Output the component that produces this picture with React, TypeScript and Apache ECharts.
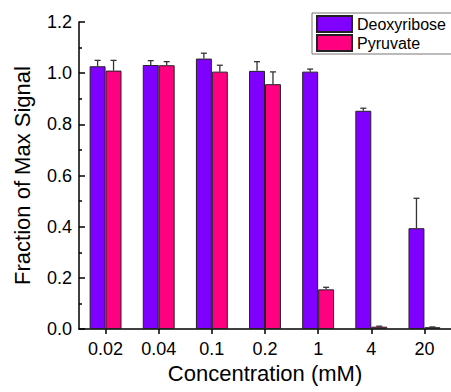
import React, { useEffect, useRef } from "react";
import * as echarts from "echarts";

const categories = ["0.02", "0.04", "0.1", "0.2", "1", "4", "20"];
const deoxyribose = [1.027, 1.032, 1.057, 1.009, 1.006, 0.853, 0.394];
const deoxyriboseErr = [0.023, 0.017, 0.021, 0.036, 0.01, 0.01, 0.117];
const pyruvate = [1.01, 1.031, 1.006, 0.957, 0.155, 0.009, 0.007];
const pyruvateErr = [0.04, 0.014, 0.025, 0.048, 0.008, 0.002, 0.001];

const FONT = "'Liberation Sans', Arial, sans-serif";
const BAR_FRAC = 0.3;

function errorSeries(values: number[], errs: number[], side: number) {
  return {
    type: "custom",
    silent: true,
    z: 5,
    data: values.map((v, i) => [i, v, v + errs[i]]),
    renderItem: (params: any, api: any) => {
      const idx = api.value(0);
      const bottom = api.coord([idx, api.value(1)]);
      const top = api.coord([idx, api.value(2)]);
      const band = api.size([1, 0])[0];
      const x = bottom[0] + side * band * BAR_FRAC * 0.5;
      const cap = 3;
      const style = { stroke: "#333333", lineWidth: 1.3 };
      return {
        type: "group",
        children: [
          { type: "line", shape: { x1: x, y1: bottom[1], x2: x, y2: top[1] }, style },
          { type: "line", shape: { x1: x - cap, y1: top[1], x2: x + cap, y2: top[1] }, style },
        ],
      };
    },
  };
}

export default function App() {
  const ref = useRef<HTMLDivElement>(null);
  useEffect(() => {
    if (!ref.current) return;
    const chart = echarts.init(ref.current, null, { renderer: "svg" });
    chart.setOption({
      animation: false,
      backgroundColor: "#ffffff",
      textStyle: { fontFamily: FONT },
      grid: { left: 79, top: 22, bottom: 63, right: -9.5, containLabel: false },
      legend: {
        data: ["Deoxyribose", "Pyruvate"],
        orient: "vertical",
        left: 312,
        top: 13,
        itemWidth: 35,
        itemHeight: 16,
        itemGap: 1,
        padding: [2, 6, 2, 4],
        borderColor: "#777777",
        borderWidth: 1,
        backgroundColor: "#ffffff",
        icon: "rect",
        textStyle: { fontSize: 16, lineHeight: 16, color: "#000", fontFamily: FONT },
      },
      xAxis: {
        type: "category",
        data: categories,
        name: "Concentration (mM)",
        nameLocation: "middle",
        nameGap: 29,
        nameTextStyle: { fontSize: 22, color: "#000", fontFamily: FONT },
        axisLine: { lineStyle: { color: "#000", width: 1.5 } },
        axisTick: { show: true, alignWithLabel: true, inside: false, length: 5, lineStyle: { color: "#000", width: 1.5 } },
        axisLabel: { fontSize: 18, color: "#000", margin: 11, fontFamily: FONT },
        splitLine: { show: false },
      },
      yAxis: {
        type: "value",
        min: 0,
        max: 1.2,
        interval: 0.2,
        name: "Fraction of Max Signal",
        nameLocation: "middle",
        nameGap: 46,
        nameTextStyle: { fontSize: 22, color: "#000", fontFamily: FONT },
        axisLine: { show: true, lineStyle: { color: "#000", width: 1.5 } },
        axisTick: { show: true, inside: true, length: 6, lineStyle: { color: "#000", width: 1.5 } },
        minorTick: { show: true, splitNumber: 2, length: 3, lineStyle: { color: "#000", width: 1.5 } },
        axisLabel: {
          fontSize: 18,
          color: "#000",
          margin: 7,
          fontFamily: FONT,
          formatter: (v: number) => v.toFixed(1),
        },
        splitLine: { show: false },
      },
      series: [
        {
          name: "Deoxyribose",
          type: "bar",
          data: deoxyribose,
          barWidth: "30%",
          barGap: "0%",
          itemStyle: { color: "#8000FF", borderColor: "#222222", borderWidth: 1 },
        },
        {
          name: "Pyruvate",
          type: "bar",
          data: pyruvate,
          barWidth: "30%",
          barGap: "0%",
          itemStyle: { color: "#FF0080", borderColor: "#222222", borderWidth: 1 },
        },
        errorSeries(deoxyribose, deoxyriboseErr, -1),
        errorSeries(pyruvate, pyruvateErr, 1),
      ],
    });
    return () => chart.dispose();
  }, []);
  return (
    <div
      ref={ref}
      style={{ position: "fixed", left: 0, top: 0, width: 451, height: 392, background: "#fff" }}
    />
  );
}
